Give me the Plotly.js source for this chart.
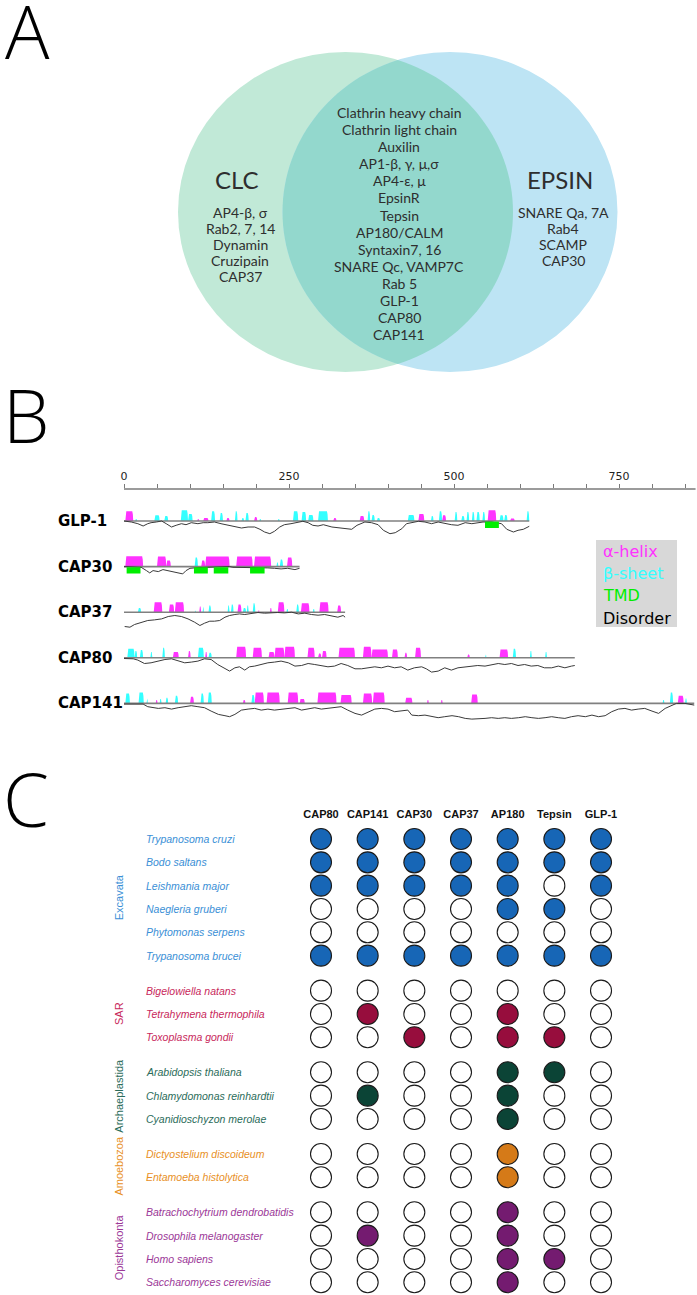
<!DOCTYPE html>
<html><head><meta charset="utf-8">
<script src="https://cdn.plot.ly/plotly-3.0.1.min.js"></script>
<style>html,body{margin:0;padding:0;background:#fff}#chart{width:697px;height:1295px}</style>
</head><body><div id="chart"></div>
<script>
// ---------------- Panel A data (Venn) ----------------
const vennSets = ['CLC', 'EPSIN'];
const clcOnly = ['AP4-β, σ', 'Rab2, 7, 14', 'Dynamin', 'Cruzipain', 'CAP37'];
const sharedSet = ['Clathrin heavy chain', 'Clathrin light chain', 'Auxilin', 'AP1-β, γ, μ,σ', 'AP4-ε, μ', 'EpsinR', 'Tepsin', 'AP180/CALM', 'Syntaxin7, 16', 'SNARE Qc, VAMP7C', 'Rab 5', 'GLP-1', 'CAP80', 'CAP141'];
const epsinOnly = ['SNARE Qa, 7A', 'Rab4', 'SCAMP', 'CAP30'];

// ---------------- Panel B data (protein features) ----------------
const proteins = ['GLP-1', 'CAP30', 'CAP37', 'CAP80', 'CAP141'];
const protLength = [614, 266, 335, 683, 864];
const rulerTicks = [0, 50, 100, 150, 200, 250, 300, 350, 400, 450, 500, 550, 600, 650, 700, 750, 800, 850];
const rulerLabels = ['0', '', '', '', '', '250', '', '', '', '', '500', '', '', '', '', '750', '', ''];
// segments: [start, end, score]
const helixSegs = [
  [[2,14,9.7],[111,114,2],[120,128,3],[155,160,3],[197,202,4],[317,322,3],[357,364,5],[446,455,7],[482,488,5.7],[551,564,10.7],[585,592,2.5]],
  [[2,29,10.3],[50,64,10],[64,71,6],[117,123,6],[123,160,10],[170,195,10],[197,223,10],[247,255,9]],
  [[45,58,10],[68,76,7.7],[77,91,10],[114,117,5.7],[172,178,7.7],[203,205,2.3],[221,224,4.3],[233,243,10],[268,281,9],[296,310,10],[323,329,6.7]],
  [[74,83,5.7],[97,101,6.7],[123,126,5.7],[170,185,11],[195,209,10],[219,228,5.7],[228,243,10],[243,259,11],[278,289,10],[294,299,4.3],[300,307,6.7],[325,350,10],[362,375,11],[375,400,8.3],[406,415,8.3],[425,429,5],[441,450,10],[520,524,3.3],[569,582,8.3]],
  [[48,51,3.3],[100,106,6.7],[180,184,3.3],[198,212,11],[216,236,11],[248,264,11],[266,274,4.3],[293,322,11],[328,345,8.3],[362,376,10],[377,395,11],[426,437,5.7],[459,462,3.3],[480,483,3.3],[526,536,9],[839,848,7.7]]
];
const sheetSegs = [
  [[17,20,2],[46,54,5.7],[61,67,5],[86,97,10.7],[97,104,7],[132,138,9.7],[145,150,8],[168,172,9.7],[178,182,3],[184,189,8],[205,208,2],[233,236,2],[256,264,9.7],[269,276,9],[279,287,6],[294,309,9.7],[369,373,9.7],[375,380,6],[383,388,3],[430,440,6],[465,469,5],[477,482,9.7],[501,505,9],[511,516,5],[519,523,9],[527,531,9],[534,539,9],[543,547,9],[569,575,5.7],[576,581,6],[610,614,9.7]],
  [[107,112,9],[231,234,4],[236,241,7]],
  [[21,26,4.3],[107,109,1.7],[119,121,5.7],[128,132,6.7],[157,160,6.7],[162,166,7.7],[180,185,4.3],[186,189,6.7],[195,199,9],[246,249,3.3],[261,265,7.7],[286,289,3.3]],
  [[5,16,9],[16,20,6.7],[24,29,7.7],[40,43,5.7],[58,62,10],[112,121,10],[128,133,5],[547,549,3.3],[589,594,9],[615,618,6.7],[638,641,5.7]],
  [[2,9,10],[22,30,11],[34,36,5],[54,57,4.3],[63,67,5.7],[77,82,7.7],[116,121,10],[127,133,11],[193,198,8.3],[816,819,3.3],[827,832,11],[850,853,5]]
];
const tmdSegs = [
  [[547,568]],
  [[4,25],[106,127],[136,158],[191,213]],
  [], [], []
];
const disorderPos = [
  [0,11,21,29,36,41,49,57,64,72,79,87,94,102,112,120,127,137,147,158,168,178,188,198,206,213,221,228,236,243,253,264,271,279,286,294,302,315,325,335,345,353,358,365,375,385,393,403,411,421,428,436,446,456,466,476,486,496,506,517,527,537,544,557,572,580,590,597,605,614],
  [0,26,34,39,44,52,59,67,74,82,89,94,100,112,130,147,160,165,173,183,203,218,228,238,248,259,266],
  [1,9,16,26,36,46,57,67,77,87,97,107,115,122,130,137,145,153,160,168,175,183,193,203,213,223,233,243,254,264,274,284,294,304,314,324,332,335],
  [0,14,21,31,41,52,62,72,82,92,102,112,122,132,142,153,160,168,175,183,190,198,208,218,228,238,249,259,269,279,289,299,309,319,329,339,350,360,370,380,390,400,410,420,430,440,451,458,466,476,486,496,506,516,526,536,547,557,567,577,587,597,607,617,627,637,648,658,668,678,683],
  [0,16,29,36,44,52,62,72,82,92,102,112,122,132,143,153,160,168,178,188,198,208,218,228,238,249,259,269,279,289,299,309,319,329,339,350,360,370,380,390,400,410,420,430,436,446,456,466,476,486,497,507,517,527,537,547,557,567,577,587,598,608,618,628,638,648,658,668,678,688,699,709,719,729,739,749,759,769,779,789,800,810,820,830,837,850,864]
];
const disorderVal = [
  [0,1,2.7,5,2.7,1.7,1,0,2.7,6,4.3,2.7,3.7,1.7,2.7,1.7,1.7,1,2.7,4.3,5,7,6,6,8.3,11,12.7,10.3,6,3.7,2.7,1,0.3,1.7,4.3,5,3.7,6,7,7.7,8.3,4.3,2.7,1,1.7,3.7,9.3,12.7,11.7,7.7,2.7,1.7,0.3,1,2.7,1,2.7,3.7,4.3,1.7,2.7,1.7,1,1,2.7,8.3,11,9.3,8.3,5.3],
  [0,0.7,4,6.3,4,5,3,4,5,6.3,7.3,4,1.7,1,0.7,0.5,0,0.7,0.7,0.7,0.7,1.3,1.7,2.3,1.7,3,1.7],
  [14.3,15,12.3,10,8.3,7.7,6.7,4.3,3.3,4.3,6.7,10,13.3,11,9,9,8.3,5,3.3,2.3,1.7,2.3,1,0.3,1,0.3,0.3,0.7,0,1.7,1,2.3,3,2.3,3.7,5,3.3,5],
  [0.7,1,2.3,5.7,5,3.3,1.7,1,3.3,5,4.3,3.3,1,1.7,6.7,11,13.3,10,9,12.3,9,8.3,6.7,5,4.3,3.3,5,8.3,7.7,5.7,6.7,7.7,9,8.3,5.7,7.7,11,11,10,9,10,8.3,10,9,12.3,10,9,11,14.3,13.3,10,12.3,10,9,8.3,7.7,8.3,6.7,5.7,6.7,5.7,7.7,6.7,8.3,7.7,10,10,8.3,10,8.3,7.7],
  [0.7,1,0.7,3.3,4.3,5,4.3,5.7,4.3,3.3,2.3,3.3,4.3,7.7,11,12.3,13.3,11,6.7,5.7,5,6.7,5.7,6.7,5.7,5,4.3,6.7,5.7,4.3,5.7,5,4.3,3.3,6.7,10,11.7,8.3,5.7,5,5.7,8.3,7.7,6.7,11.7,12.3,11.7,13.3,14.3,13.3,12.3,13.3,15,15.7,15.7,15,14.3,15,14.3,15,14.3,13.3,14.3,15,14.3,13.3,14.3,15,13.3,12.3,13.3,11.7,13.3,12.3,8.3,5.7,5,6.7,5.7,5,7.7,10,5,2.3,0,0,1.7]
];
const featureNames = ['α-helix', 'β-sheet', 'TMD', 'Disorder'];

// ---------------- Panel C data (presence matrix) ----------------
const columns = ['CAP80', 'CAP141', 'CAP30', 'CAP37', 'AP180', 'Tepsin', 'GLP-1'];
const groups = ['Excavata', 'SAR', 'Archaeplastida', 'Amoebozoa', 'Opisthokonta'];
const species = ['Trypanosoma cruzi', 'Bodo saltans', 'Leishmania major', 'Naegleria gruberi', 'Phytomonas serpens', 'Trypanosoma brucei',
  'Bigelowiella natans', 'Tetrahymena thermophila', 'Toxoplasma gondii',
  'Arabidopsis thaliana', 'Chlamydomonas reinhardtii', 'Cyanidioschyzon merolae',
  'Dictyostelium discoideum', 'Entamoeba histolytica',
  'Batrachochytrium dendrobatidis', 'Drosophila melanogaster', 'Homo sapiens', 'Saccharomyces cerevisiae'];
const speciesGroup = [0,0,0,0,0,0,1,1,1,2,2,2,3,3,4,4,4,4];
const presence = [
  [1,1,1,1,1,1,1],
  [1,1,1,1,1,1,1],
  [1,1,1,1,1,0,1],
  [0,0,0,0,1,1,0],
  [0,0,0,0,0,0,0],
  [1,1,1,1,1,1,1],
  [0,0,0,0,0,0,0],
  [0,1,0,0,1,0,0],
  [0,0,1,0,1,1,0],
  [0,0,0,0,1,1,0],
  [0,1,0,0,1,0,0],
  [0,0,0,0,1,0,0],
  [0,0,0,0,1,0,0],
  [0,0,0,0,1,0,0],
  [0,0,0,0,1,0,0],
  [0,1,0,0,1,0,0],
  [0,0,0,0,1,1,0],
  [0,0,0,0,1,0,0]
];

// ---------------- styles ----------------
const W = 697, H = 1295;
const groupDot = ['#1766b6', '#970d3d', '#0b4436', '#d57a18', '#741b70'];
const groupText = ['#3a8fd6', '#c8285b', '#2b6c5a', '#e8901f', '#9b3797'];
const helixColor = '#ff33ff', sheetColor = '#33ffff', tmdColor = '#00ee00';
const ARIAL = 'Liberation Sans, Arial, sans-serif';
const DEJAVU = 'DejaVu Sans, sans-serif';
const VENNFONT = 'Lato, Open Sans, sans-serif';

const traces = [];
const shapes = [];
const annotations = [];

// dummy trace for pixel axis
traces.push({type:'scatter', x:[0], y:[0], mode:'markers', marker:{opacity:0}, xaxis:'x', yaxis:'y', hoverinfo:'skip'});

// ---------------- Panel A ----------------
const cy = 212, rx = 167.5, ry = 160, cxL = 345.5, cxR = 450;
shapes.push({type:'circle', xref:'x', yref:'y', x0:cxL-rx, x1:cxL+rx, y0:cy-ry, y1:cy+ry, fillcolor:'#c1e9d7', line:{width:0}, layer:'below'});
shapes.push({type:'circle', xref:'x', yref:'y', x0:cxR-rx, x1:cxR+rx, y0:cy-ry, y1:cy+ry, fillcolor:'#bde4f4', line:{width:0}, layer:'below'});
(function(){
  const xm = (cxL + cxR) / 2;
  const t0 = Math.acos((xm - cxL) / rx);
  const pts = [];
  const N = 60;
  for (let k = 0; k <= N; k++) { const t = -t0 + 2*t0*k/N; pts.push([cxL + rx*Math.cos(t), cy + ry*Math.sin(t)]); }
  for (let k = 0; k <= N; k++) { const t = t0 - 2*t0*k/N; pts.push([cxR - rx*Math.cos(t), cy + ry*Math.sin(t)]); }
  const path = 'M ' + pts.map(p => p[0].toFixed(2) + ',' + p[1].toFixed(2)).join(' L ') + ' Z';
  shapes.push({type:'path', xref:'x', yref:'y', path:path, fillcolor:'#93d8cd', line:{width:0}, layer:'below'});
})();
const vennTextColor = '#2e2e2e';
const VSIZE = 14;
annotations.push({xref:'x', yref:'y', x:237, y:179, text:vennSets[0], showarrow:false, font:{family:VENNFONT, size:24, color:vennTextColor}});
annotations.push({xref:'x', yref:'y', x:560, y:179, text:vennSets[1], showarrow:false, font:{family:VENNFONT, size:24, color:vennTextColor}});
clcOnly.forEach((t, i) => annotations.push({xref:'x', yref:'y', x:240, y:212 + i*16, text:t, showarrow:false, font:{family:VENNFONT, size:VSIZE, color:vennTextColor}}));
epsinOnly.forEach((t, i) => annotations.push({xref:'x', yref:'y', x:563, y:212 + i*16.1, text:t, showarrow:false, font:{family:VENNFONT, size:VSIZE, color:vennTextColor}}));
sharedSet.forEach((t, i) => annotations.push({xref:'x', yref:'y', x:399, y:112.7 + i*17.05, text:t, showarrow:false, font:{family:VENNFONT, size:VSIZE, color:vennTextColor}}));

// panel letters
[['A', 27, 30], ['B', 26, 414], ['C', 26, 798]].forEach(([t, x, y]) => annotations.push({xref:'x', yref:'y', x:x, y:y, text:t, showarrow:false, font:{family:'Open Sans, Liberation Sans, sans-serif', size:74, weight:300, color:'#000'}}));

// ---------------- Panel B ----------------
const SCORE = 1/45.6; // track units per score unit
function bumps(segs, track, color) {
  const xs = [], ys = [];
  segs.forEach(([s, e, h]) => {
    const r = Math.min(1.5, (e - s)/3);
    xs.push(s, s + r*0.4, s + r, e - r, e - r*0.4, e, null);
    ys.push(track, track - 0.7*h*SCORE, track - h*SCORE, track - h*SCORE, track - 0.7*h*SCORE, track, null);
  });
  return {type:'scatter', mode:'lines', x:xs, y:ys, xaxis:'x2', yaxis:'y2', fill:'toself', fillcolor:color, line:{width:0, color:color}, hoverinfo:'skip'};
}
proteins.forEach((p, i) => {
  traces.push(bumps(helixSegs[i], i, helixColor));
  traces.push(bumps(sheetSegs[i], i, sheetColor));
  traces.push({type:'scatter', mode:'lines', x:[0, protLength[i]], y:[i, i], xaxis:'x2', yaxis:'y2', line:{color:'#808080', width:1.6}, hoverinfo:'skip'});
  traces.push({type:'scatter', mode:'lines', x:disorderPos[i], y:disorderVal[i].map(v => i + v*SCORE), xaxis:'x2', yaxis:'y2', line:{color:'#3a3a3a', width:1}, hoverinfo:'skip'});
  if (tmdSegs[i].length) {
    const xs = [], ys = [];
    tmdSegs[i].forEach(([s, e]) => { xs.push(s, e, e, s, s, null); ys.push(i + 0.6*SCORE, i + 0.6*SCORE, i + 7*SCORE, i + 7*SCORE, i + 0.6*SCORE, null); });
    traces.push({type:'scatter', mode:'lines', x:xs, y:ys, xaxis:'x2', yaxis:'y2', fill:'toself', fillcolor:tmdColor, line:{width:0, color:tmdColor}, hoverinfo:'skip'});
  }
  annotations.push({xref:'x', yref:'y2', x:56, y:i, xanchor:'left', text:'<b>' + p + '</b>', showarrow:false, font:{family:DEJAVU, size:15, color:'#000'}});
});
// ruler line
shapes.push({type:'line', xref:'x2', yref:'y2 domain', x0:0, x1:866, y0:1, y1:1, line:{color:'#7a7a7a', width:1.5}});
// legend box
shapes.push({type:'rect', xref:'x', yref:'y', x0:596, x1:677, y0:540, y1:627, fillcolor:'#d8d8d8', line:{width:0}});
const legendColors = [helixColor, sheetColor, tmdColor, '#000'];
featureNames.forEach((t, k) => annotations.push({xref:'x', yref:'y', x:601, y:551 + k*22.4, xanchor:'left', text:t, showarrow:false, font:{family:DEJAVU, size:16, color:legendColors[k]}}));

// ---------------- Panel C ----------------
const rowY = [];
species.forEach((s, i) => {
  if (i === 0) rowY.push(0);
  else rowY.push(rowY[i-1] + (speciesGroup[i] !== speciesGroup[i-1] ? 1.5 : 1));
});
const dx = [], dy = [], dc = [];
species.forEach((s, i) => columns.forEach((c, j) => {
  dx.push(c); dy.push(rowY[i]); dc.push(presence[i][j] ? groupDot[speciesGroup[i]] : '#ffffff');
}));
traces.push({type:'scatter', mode:'markers', x:dx, y:dy, xaxis:'x3', yaxis:'y3', marker:{size:21, color:dc, line:{color:'#1a1a1a', width:1.1}}, hoverinfo:'skip'});
species.forEach((s, i) => annotations.push({xref:'x', yref:'y3', x:144, y:rowY[i], xanchor:'left', text:'<i>' + s + '</i>', showarrow:false, font:{family:ARIAL, size:10.5, color:groupText[speciesGroup[i]]}}));
groups.forEach((g, k) => {
  const ys = rowY.filter((y, i) => speciesGroup[i] === k);
  const mid = (Math.min(...ys) + Math.max(...ys)) / 2;
  annotations.push({xref:'x', yref:'y3', x:119, y:mid, text:g, textangle:-90, showarrow:false, font:{family:ARIAL, size:11, color:groupText[k]}});
});

// ---------------- layout ----------------
const hidden = {visible:false, showgrid:false, zeroline:false, fixedrange:true};
const layout = {
  width:W, height:H, margin:{l:0, r:0, t:0, b:0}, paper_bgcolor:'#fff', plot_bgcolor:'rgba(0,0,0,0)', showlegend:false,
  font:{family:ARIAL},
  xaxis:Object.assign({}, hidden, {range:[0, W], domain:[0, 1]}),
  yaxis:Object.assign({}, hidden, {range:[H, 0], domain:[0, 1]}),
  xaxis2:{domain:[0, 1], range:[-124/0.66, (W-124)/0.66], anchor:'y2', side:'top', showgrid:false, zeroline:false, showline:false,
    ticks:'outside', ticklen:4, tickwidth:1, tickcolor:'#7a7a7a', tickmode:'array', tickvals:rulerTicks, ticktext:rulerLabels,
    tickfont:{family:DEJAVU, size:11, color:'#222'}, fixedrange:true},
  yaxis2:Object.assign({}, hidden, {anchor:'x2', domain:[(H-730)/H, (H-489)/H], range:[(730-521)/45.6, (489-521)/45.6]}),
  xaxis3:{domain:[0, 1], anchor:'y3', side:'top', type:'category', categoryorder:'array', categoryarray:columns,
    range:[-321/46.67, (W-321)/46.67], showgrid:false, zeroline:false, showline:false, ticks:'', ticklabelstandoff:4,
    tickfont:{family:ARIAL, size:11, color:'#111', weight:'bold'}, fixedrange:true},
  yaxis3:Object.assign({}, hidden, {anchor:'x3', domain:[0, (H-825)/H], range:[(H-839)/23.33, (825-839)/23.33]}),
  shapes:shapes, annotations:annotations
};
Plotly.newPlot('chart', traces, layout, {displayModeBar:false, staticPlot:true});
</script></body></html>
